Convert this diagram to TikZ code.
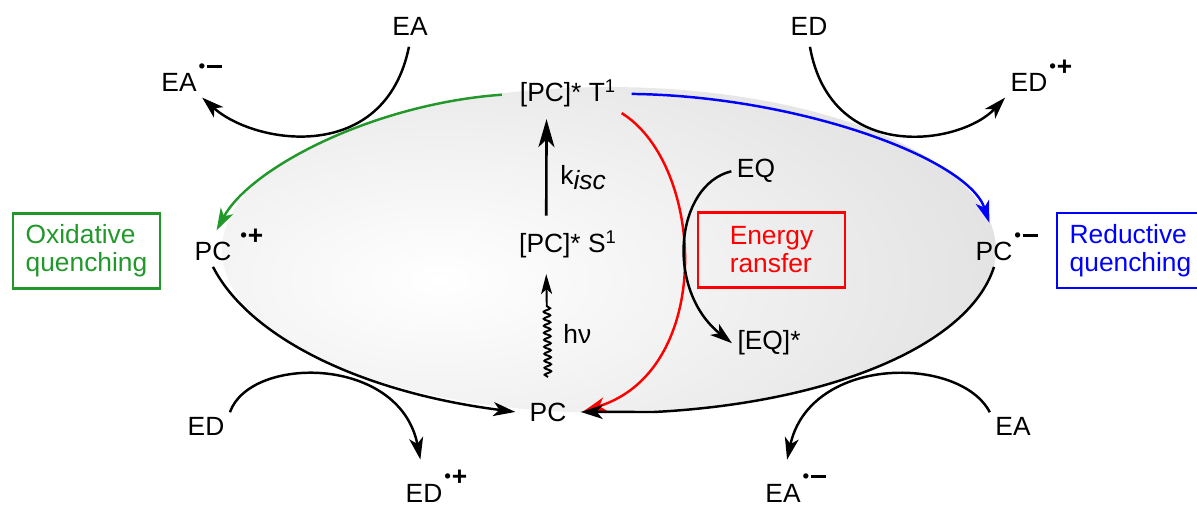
\documentclass[tikz,border=0pt]{standalone}
\usepackage{fontspec}
\setmainfont{Liberation Sans}
\usepackage{xcolor}
\definecolor{oxgreen}{HTML}{22982A}
\definecolor{etred}{HTML}{FF0000}
\definecolor{rdblue}{HTML}{0000FF}
\definecolor{cyclegray}{HTML}{E2E2E2}
\usetikzlibrary{arrows.meta, positioning, calc, decorations.pathmorphing}

% radical superscripts, kept out of the node width
\newcommand{\raddot}{\raisebox{12.8pt}{\fontsize{7}{7}\selectfont$\bullet$}}
\newcommand{\radcat}[1][1pt]{\smash{\rlap{\kern#1\raddot\kern0.3pt\raisebox{9.3pt}{\bfseries +}}}}
\newcommand{\radan}[1][1pt]{\smash{\rlap{\kern#1\raddot\kern0.8pt\rule[13.7pt]{8.5pt}{1.7pt}}}}

\begin{document}
\begin{tikzpicture}[
  x=0.02cm, y=-0.02cm,
  font=\fontsize{15}{18}\selectfont,
  species/.style={inner sep=3pt, anchor=base},
  arr/.style={-{Stealth[length=4.4mm, width=2.8mm, inset=1.2mm]}, line width=1.4pt},
  quench/.style={
    draw, line width=1.3pt, minimum width=2.94cm, minimum height=1.5cm,
    align=left, inner sep=0pt, font=\fontsize{15}{16}\selectfont
  }
]
  \useasboundingbox (0,0) rectangle (1197,506);

  % shaded cycle
  \begin{scope}
    \clip (609,250) ellipse (7.74cm and 3.26cm);
    \shade[inner color=white, outer color=cyclegray] (440,280) ellipse (11.6cm and 5.6cm);
  \end{scope}

  % species
  \node[species] (EAt) at (410,36) {EA};
  \node[species] (EAo) at (179,92) {EA\radan};
  \node[species] (EDt) at (809,36) {ED};
  \node[species] (EDr) at (1029,92) {ED\radcat};
  \node[species] (T1) at (568,102) {[PC]* T\textsuperscript{1}};
  \node[species] (S1) at (568,253) {[PC]* S\textsuperscript{1}};
  \node[species] (PCo) at (213,261) {PC\radcat[5pt]};
  \node[species] (PCr) at (994,261) {PC\radan};
  \node[species, inner xsep=8pt] (PC) at (548,421) {PC};
  \node[species] (EQ) at (756,178) {EQ};
  \node[species] (EQx) at (769,350) {[EQ]*};
  \node[species] (EDl) at (206,436) {ED};
  \node[species] (EDb) at (424,502) {ED\radcat};
  \node[species] (EAr) at (1013,436) {EA};
  \node[species] (EAb) at (783,502) {EA\radan};

  % labels
  \node[anchor=base west, inner sep=0pt] (kisc) at (560,185) {k\raisebox{-2.3pt}{\itshape isc}};
  \node[anchor=base west, inner sep=0pt] (hnu) at (563,344) {hν};

  % quenching boxes
  \node[quench, draw=oxgreen, text=oxgreen] (oxq) at (86.5,251) {Oxidative\\quenching};
  \node[quench, draw=etred, text=etred] (etbox) at (771.5,250) {Energy\\ransfer\hspace{8pt}};
  \node[quench, draw=rdblue, text=rdblue] (rdq) at (1130.5,250.5) {Reductive\\quenching};

  % excitation
  \draw[-{Stealth[length=5.6mm, width=3.2mm, inset=1.5mm]}, line width=1.5pt,
    shorten <=0.2cm, shorten >=0.12cm]
    ($(S1.north west)!0.3!(S1.north east)$) -- ($(T1.south west)!0.3!(T1.south east)$);
  \draw[decorate, decoration={snake, amplitude=0.066cm, segment length=0.14cm, post length=0.6cm},
    -{Stealth[length=4mm, width=2.2mm, inset=1mm]}, line width=1.1pt]
    ($(PC.north)+(0,-20)$) -- ($(S1.south west)!0.3!(S1.south east)+(0,10)$);

  % cycle arrows
  \draw[arr, oxgreen, shorten <=0.25cm, shorten >=0.15cm]
    (T1.west) .. controls (373,104) and (250,168) .. (PCo.north);
  \draw[arr, rdblue, shorten <=0.2cm, shorten >=0.3cm]
    (T1.east) .. controls (797,96) and (968,158) .. (PCr.north);
  \draw[arr, etred, shorten >=2pt]
    (T1.south east) .. controls (705,165) and (715,370) .. (PC.east);
  \draw[arr] (PCo.south) .. controls (249,337) and (360,392) .. (PC.west);
  \coordinate (bend) at (654,412);
  \draw[arr] (PCr.south) .. controls (969,346) and (829,403) .. (bend) -- (PC.east);

  % donors and acceptors
  \draw[arr, shorten <=3pt] (EAt.south) .. controls (385,165) and (255,145) .. (EAo.south east);
  \draw[arr, shorten <=3pt] (EDt.south) .. controls (831,165) and (961,145) .. (EDr.south west);
  \draw[arr, shorten >=0.38cm] (EDl.north east) .. controls (250,355) and (400,355) .. (EDb.north);
  \draw[arr, shorten >=0.38cm] (EAr.north west) .. controls (960,355) and (810,355) .. (EAb.north);
  \draw[arr] (EQ.west) .. controls (675,185) and (665,290) .. (EQx.west);
\end{tikzpicture}
\end{document}
